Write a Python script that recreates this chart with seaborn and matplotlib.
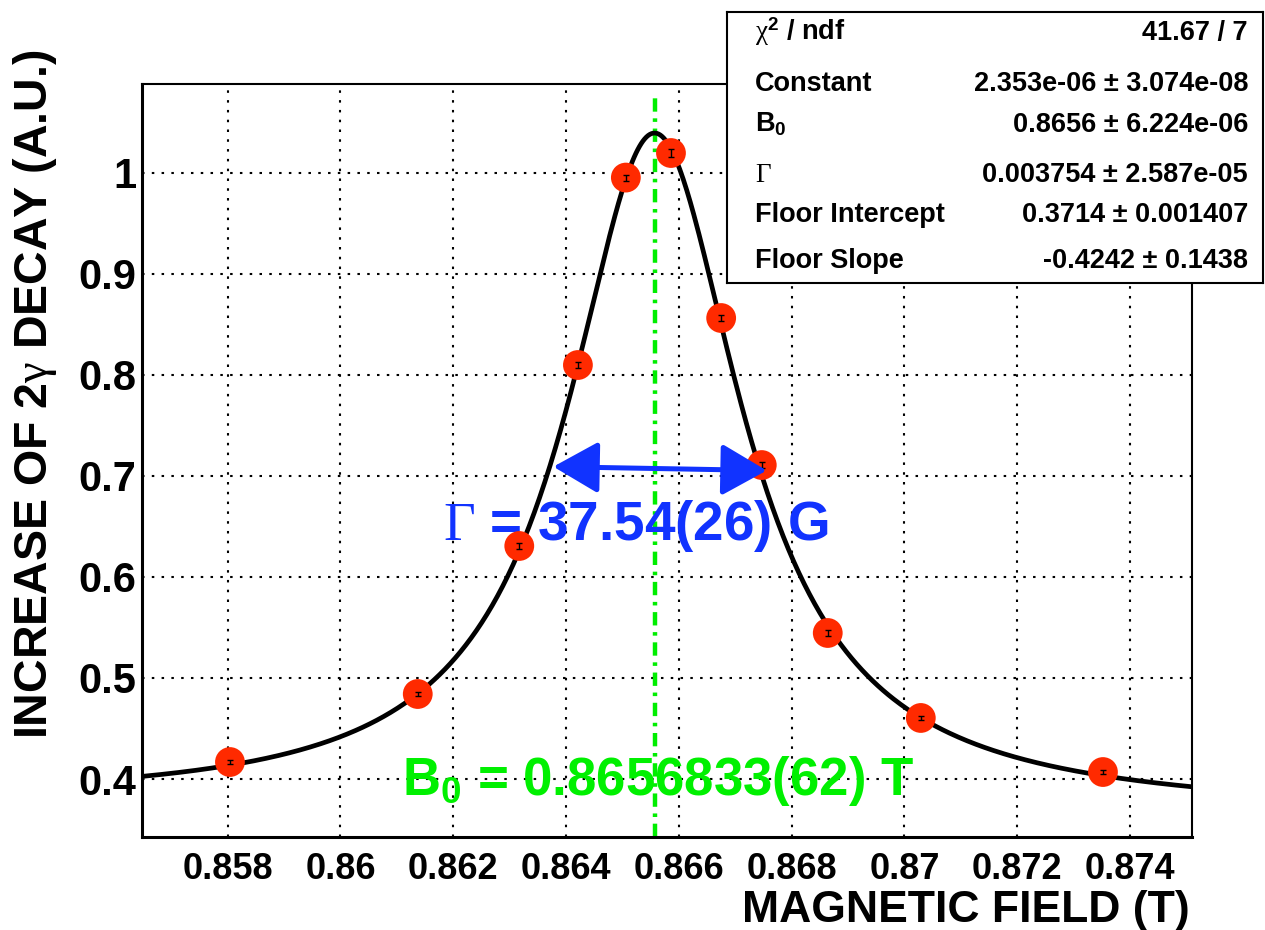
import numpy as np
import matplotlib
matplotlib.use("Agg")
import matplotlib.pyplot as plt
import seaborn as sns
from matplotlib.ticker import MultipleLocator

field = [0.85804, 0.86137, 0.86317, 0.86421, 0.86506, 0.86586,
         0.86675, 0.86747, 0.86864, 0.87029, 0.87352]
signal = [0.4168, 0.4841, 0.6306, 0.8097, 0.9952, 1.0195,
          0.8562, 0.7107, 0.5445, 0.4604, 0.4069]
signal_err = [0.002, 0.002, 0.003, 0.003, 0.003, 0.004,
              0.003, 0.003, 0.003, 0.002, 0.002]

# fit parameters (Lorentzian + linear floor)
fit_constant = 2.353e-06
fit_b0 = 0.86557          # peak position as drawn on the plot
fit_gamma = 0.003754
floor_intercept = 0.3714
floor_slope = -0.4242

stat_labels = [r"$\mathrm{\chi}^{\mathbf{2}}$ / ndf", "Constant", r"$\mathbf{B_0}$",
               r"$\Gamma$", "Floor Intercept", "Floor Slope"]
stat_values = ["41.67 / 7", "2.353e-06 ± 3.074e-08", "0.8656 ± 6.224e-06",
               "0.003754 ± 2.587e-05", "0.3714 ± 0.001407", "-0.4242 ± 0.1438"]

x_ticks = [0.858, 0.860, 0.862, 0.864, 0.866, 0.868, 0.870, 0.872, 0.874]
x_tick_labels = ["0.858", "0.86", "0.862", "0.864", "0.866", "0.868", "0.87", "0.872", "0.874"]
y_ticks = [0.4, 0.5, 0.6, 0.7, 0.8, 0.9, 1.0]
y_tick_labels = ["0.4", "0.5", "0.6", "0.7", "0.8", "0.9", "1"]

x_range = (0.856475, 0.87509)
y_range = (0.3429, 1.0878)

red = "#ff2a00"
green = "#00ee00"
blue = "#1133ff"

sns.set_theme(style="white")
plt.rcParams['font.family'] = ['Liberation Sans', 'DejaVu Sans']
plt.rcParams['text.color'] = 'black'
plt.rcParams['axes.labelcolor'] = 'black'
plt.rcParams['xtick.color'] = 'black'
plt.rcParams['ytick.color'] = 'black'
plt.rcParams['mathtext.fontset'] = 'custom'
plt.rcParams['mathtext.rm'] = 'Liberation Serif'
plt.rcParams['mathtext.it'] = 'Liberation Serif:italic'
plt.rcParams['mathtext.bf'] = 'Liberation Sans:bold'
plt.rcParams['mathtext.sf'] = 'Liberation Sans'

W, H = 1265, 930
fig = plt.figure(figsize=(W / 100, H / 100), dpi=100)
ax = fig.add_axes([141.7 / W, 1 - 836.7 / H, (1191.5 - 141.7) / W, (836.7 - 84) / H])


def fit_func(b):
    d = b - fit_b0
    return fit_constant / (d ** 2 + (fit_gamma / 2) ** 2) + floor_intercept + floor_slope * d


bb = np.linspace(x_range[0], x_range[1], 600)
sns.lineplot(x=bb, y=fit_func(bb), color="black", linewidth=3.4, ax=ax, zorder=3)
sns.scatterplot(x=field, y=signal, s=460, color=red, edgecolor="none", ax=ax, zorder=4)
ax.errorbar(field, signal, yerr=signal_err, fmt="none", ecolor="black",
            elinewidth=1.0, capsize=2.5, capthick=1.0, zorder=5)

# green centre line
ymax_frac = (1.077 - y_range[0]) / (y_range[1] - y_range[0])
ax.axvline(fit_b0, ymin=0, ymax=ymax_frac, color=green, linewidth=3.2,
           linestyle=(0, (3.0, 1.5, 0.8, 1.5)), zorder=2)

# width arrow
ax.annotate("", xy=(0.863774, 0.7091), xytext=(0.867558, 0.7053),
            arrowprops=dict(arrowstyle="<|-|>,head_length=1.4,head_width=0.8",
                            color=blue, lw=3.6, shrinkA=0, shrinkB=0,
                            mutation_scale=20), zorder=6)

ax.text(0.861818, 0.6365, r"$\Gamma$ = 37.54(26) G", color=blue, fontsize=39.5,
        fontweight="bold", ha="left", va="baseline", zorder=2.5)
ax.text(0.86563, 0.3845, r"$\mathbf{B_0}$ = 0.8656833(62) T", color="#00f000",
        fontsize=38, fontweight="bold", ha="center", va="baseline", zorder=2.5)

ax.set_xlim(*x_range)
ax.set_ylim(*y_range)
ax.set_xticks(x_ticks, labels=x_tick_labels, fontsize=26, fontweight="bold")
ax.set_yticks(y_ticks, labels=y_tick_labels, fontsize=30, fontweight="bold")
ax.xaxis.set_minor_locator(MultipleLocator(0.0005))
ax.yaxis.set_minor_locator(MultipleLocator(0.02))
ax.tick_params(axis="both", which="both", direction="in", top=False, right=False,
               color="black", width=1.5, labelcolor="black")
ax.tick_params(axis="x", which="major", length=17, pad=11)
ax.tick_params(axis="x", which="minor", length=7.7)
ax.tick_params(axis="y", which="major", length=23, pad=4)
ax.tick_params(axis="y", which="minor", length=11.5)
ax.grid(True, which="major", color="black", linestyle=(0, (1.2, 3.5)), linewidth=1.5)
ax.set_axisbelow(True)
for side, lw in [("left", 2.2), ("bottom", 2.2), ("top", 1.5), ("right", 1.5)]:
    ax.spines[side].set_color("black")
    ax.spines[side].set_linewidth(lw)
ax.set_xlabel("")
ax.set_ylabel("")

fig.text(1190 / W, 1 - 922 / H, "MAGNETIC FIELD (T)", fontsize=32, fontweight="bold",
         ha="right", va="baseline")
fig.text(35 / W, 1 - 50 / H, r"INCREASE OF 2$\mathrm{\gamma}$ DECAY (A.U.)", fontsize=33.5,
         fontweight="bold", rotation=90, ha="center", va="top")

# stats box
box = fig.add_axes([727 / W, 1 - 283 / H, 536 / W, 271 / H])
box.set_xlim(0, 536)
box.set_ylim(271, 0)
box.set_xticks([])
box.set_yticks([])
box.set_facecolor("white")
for s in box.spines.values():
    s.set_color("black")
    s.set_linewidth(1.5)
row_base = [28, 79, 120, 170, 210, 256]
for lab, val, yb in zip(stat_labels, stat_values, row_base):
    box.text(28, yb, lab, fontsize=19.5, fontweight="bold", ha="left", va="baseline")
    box.text(521, yb, val, fontsize=19.5, fontweight="bold", ha="right", va="baseline")

fig.savefig("out.png", dpi=100)
